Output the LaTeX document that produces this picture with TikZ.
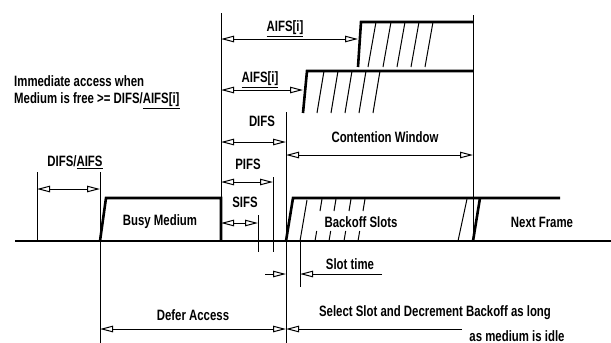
\documentclass[tikz,border=0pt]{standalone}
\usepackage{fontspec}
\setmainfont{Liberation Sans}[FakeStretch=0.76]
\usepackage{tikz}
\usetikzlibrary{arrows.meta,calc}
\tikzset{
  % --- lines
  sig/.style   = {line width=2.6pt, draw=black, line join=miter},
  ext/.style   = {line width=1pt, draw=black},
  hatch/.style = {line width=1pt, draw=black},
  dim/.style   = {line width=1pt, {Triangle[open,length=13pt,width=6.5pt]}-{Triangle[open,length=13pt,width=6.5pt]}},
  dimr/.style  = {line width=1pt, -{Triangle[open,length=13pt,width=6.5pt]}},
  % --- labels
  lbl/.style   = {font=\fontsize{15}{17}\selectfont\bfseries, inner sep=1pt},
}
\begin{document}
\begin{tikzpicture}[x=1pt,y=-1pt]
  \useasboundingbox (0,0) rectangle (611,343);

  % time marks on the medium line
  \coordinate (t0)    at (37,241);
  \coordinate (tb)    at (100,241);
  \coordinate (te)    at (221,241);
  \coordinate (tsifs) at (258,241);
  \coordinate (tpifs) at (273,241);
  \coordinate (tdifs) at (286,241);
  \coordinate (tslot) at (300,241);
  \coordinate (tcw)   at (473,241);

  % extension lines
  \draw[ext] (t0 |- 0,172) -- (t0);
  \draw[ext] (tb |- 0,172) -- (tb |- 0,343);
  \draw[ext] (te |- 0,13) -- (te);
  \draw[ext] (tsifs |- 0,215) -- (tsifs |- 0,252);
  \draw[ext] (tpifs |- 0,177) -- (tpifs |- 0,252);
  \draw[ext] (tdifs |- 0,112) -- (tdifs |- 0,343);
  \draw[ext] (tslot) -- (tslot |- 0,287);
  \draw[ext] (tcw |- 0,15) -- (tcw);

  % contention frames (AIFS[i])
  \coordinate (fa) at (358,67);
  \coordinate (fb) at (303,113);
  \draw[sig] (fa) -- (361,22) -- (tcw |- 0,22);
  \foreach \x in {368,383,397,411,425}
    \draw[hatch] (\x,67) -- (\x+8,22);
  \draw[sig] (fb) -- (307,71) -- (tcw |- 0,71);
  \foreach \x in {317,331,345,359,373}
    \draw[hatch] (\x,113) -- (\x+7,71);

  % medium: busy, backoff, next frame
  \draw[sig] (tb) -- (106,198) -- (221,198) -- (te);
  \draw[sig] (tdifs) -- (293,198) -- (560,198);
  \draw[sig] (tcw) -- (480,198);
  \draw[hatch] (tslot) -- (307,200);
  \foreach \x in {315,329,344,358}{
    \draw[hatch] (\x,241) -- (\x+1.7,231);
    \draw[hatch] (\x+5,211) -- (\x+7,199);
  }
  \draw[hatch] (458,241) -- (467,199);
  \draw[sig] (15,241) -- (611,241);

  % dimensions
  \draw[dim] (t0 |- 0,189) -- (tb |- 0,189);
  \draw[dim] (te |- 0,39) -- (fa |- 0,39);
  \draw[dim] (te |- 0,90) -- (fb |- 0,90);
  \draw[dim] (te |- 0,142) -- (tdifs |- 0,142);
  \draw[dim] (tdifs |- 0,155) -- (tcw |- 0,155);
  \draw[dim] (te |- 0,182) -- (tpifs |- 0,182);
  \draw[dim] (te |- 0,223) -- (tsifs |- 0,223);
  \draw[dim] (tb |- 0,329) -- (tdifs |- 0,329);
  \draw[dimr] (265,274) -- (tdifs |- 0,274);
  \draw[dimr] (382,274) -- (tslot |- 0,274);
  \draw[dimr] (462,329) -- (tdifs |- 0,329);

  % labels
  \node[lbl] (laifs1) at (285,29) {\underline{AIFS[i]}};
  \node[lbl] (laifs2) at (260,80) {\underline{AIFS[i]}};
  \node[lbl, anchor=west, align=left] (limm) at (13,92)
    {Immediate access when\\Medium is free >= DIFS/\underline{AIFS[i]}};
  \node[lbl] (ldifs) at (262,121) {DIFS};
  \node[lbl] (lcw) at (385,137) {Contention Window};
  \node[lbl] (ldaifs) at (75,162) {DIFS/\underline{AIFS}};
  \node[lbl] (lpifs) at (248,164) {PIFS};
  \node[lbl] (lsifs) at (245,202) {SIFS};
  \node[lbl] (lbusy) at (160,222) {Busy Medium};
  \node[lbl] (lback) at (361,222) {Backoff Slots};
  \node[lbl] (lnext) at (542,222) {Next Frame};
  \node[lbl] (lslot) at (350,264) {Slot time};
  \node[lbl] (ldefer) at (193,315) {Defer Access};
  \node[lbl] (lsel) at (435,313) {Select Slot and Decrement Backoff as long};
  \node[lbl] (lidle) at (517,336) {as medium is idle};
\end{tikzpicture}
\end{document}
